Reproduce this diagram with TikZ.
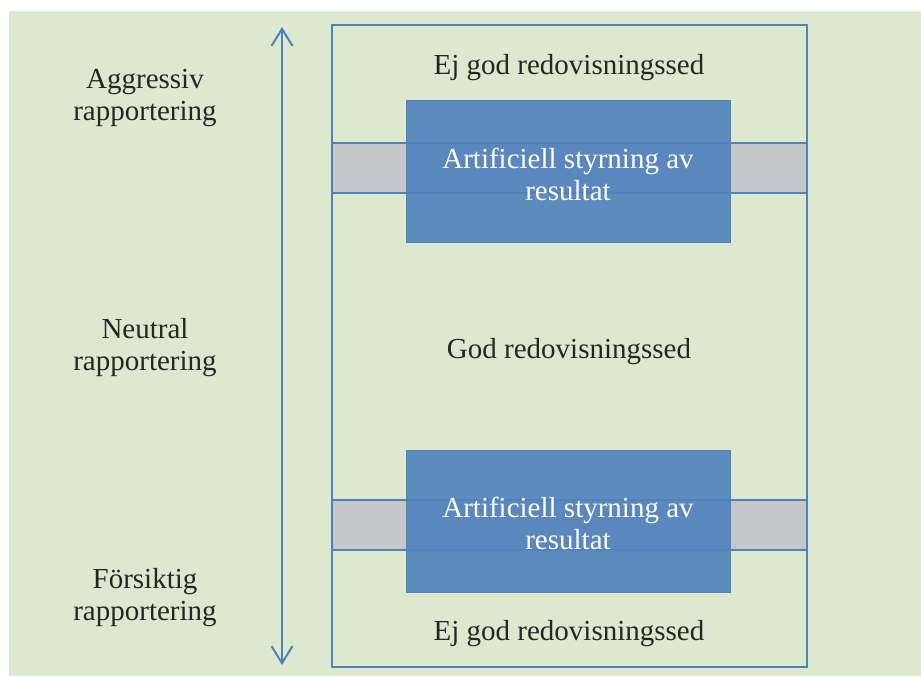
\documentclass[tikz,border=0pt]{standalone}
\usepackage{fontspec}
\setmainfont{Liberation Serif}
\usetikzlibrary{arrows.meta,positioning}
\definecolor{bakgrund}{HTML}{DDE9CF}
\definecolor{linje}{HTML}{4F81BD}
\definecolor{band}{HTML}{C6C7C9}
\definecolor{textgra}{HTML}{262626}

\begin{document}
\begin{tikzpicture}[
    x=0.5pt, y=-0.5pt,
    >={Straight Barb[length=8.5pt, width=10.5pt]},
    font=\fontsize{14.5}{16}\selectfont,
    etikett/.style={text=textgra, align=center, inner sep=0pt},
    styrning/.style={draw=linje, line width=0.5pt, fill=linje, fill opacity=0.9,
                     text opacity=1, text=white, align=center,
                     minimum width=162pt, minimum height=71pt}
  ]
  \useasboundingbox (0,0) rectangle (921,676);

  % ── bakgrund ────────────────────────────────────────────────────
  \fill[bakgrund] (9,11) rectangle (921,676);

  % ── band och ram ────────────────────────────────────────────────
  \fill[band] (332,143) rectangle (807,193);
  \fill[band] (332,500) rectangle (807,550);
  \foreach \y in {143,193,500,550}
    \draw[linje, line width=1pt] (332,\y) -- (807,\y);
  \draw[linje, line width=1pt] (332,25) rectangle (807,667);

  % ── skala ───────────────────────────────────────────────────────
  \coordinate (topp) at (282,27);
  \coordinate (botten) at (282,665);
  \draw[<->, linje, line width=1pt] (botten) -- (topp);

  \node[etikett] (aggressiv) at (145,98)  {Aggressiv\\rapportering};
  \node[etikett] (neutral)   at (145,348) {Neutral\\rapportering};
  \node[etikett] (forsiktig) at (145,598) {Försiktig\\rapportering};

  % ── sed ─────────────────────────────────────────────────────────
  \node[etikett] (ejgodovre)  at (569,68)  {Ej god redovisningssed};
  \node[etikett] (god)        at (569,352) {God redovisningssed};
  \node[etikett] (ejgodnedre) at (569,634) {Ej god redovisningssed};

  % ── styrning ────────────────────────────────────────────────────
  \node[styrning] (styrovre)  at (568,171) {};
  \node[styrning] (styrnedre) at (568,521) {};
  \node[etikett, text=white] at (568,174) {Artificiell styrning av\\resultat};
  \node[etikett, text=white] at (568,523) {Artificiell styrning av\\resultat};

\end{tikzpicture}
\end{document}
